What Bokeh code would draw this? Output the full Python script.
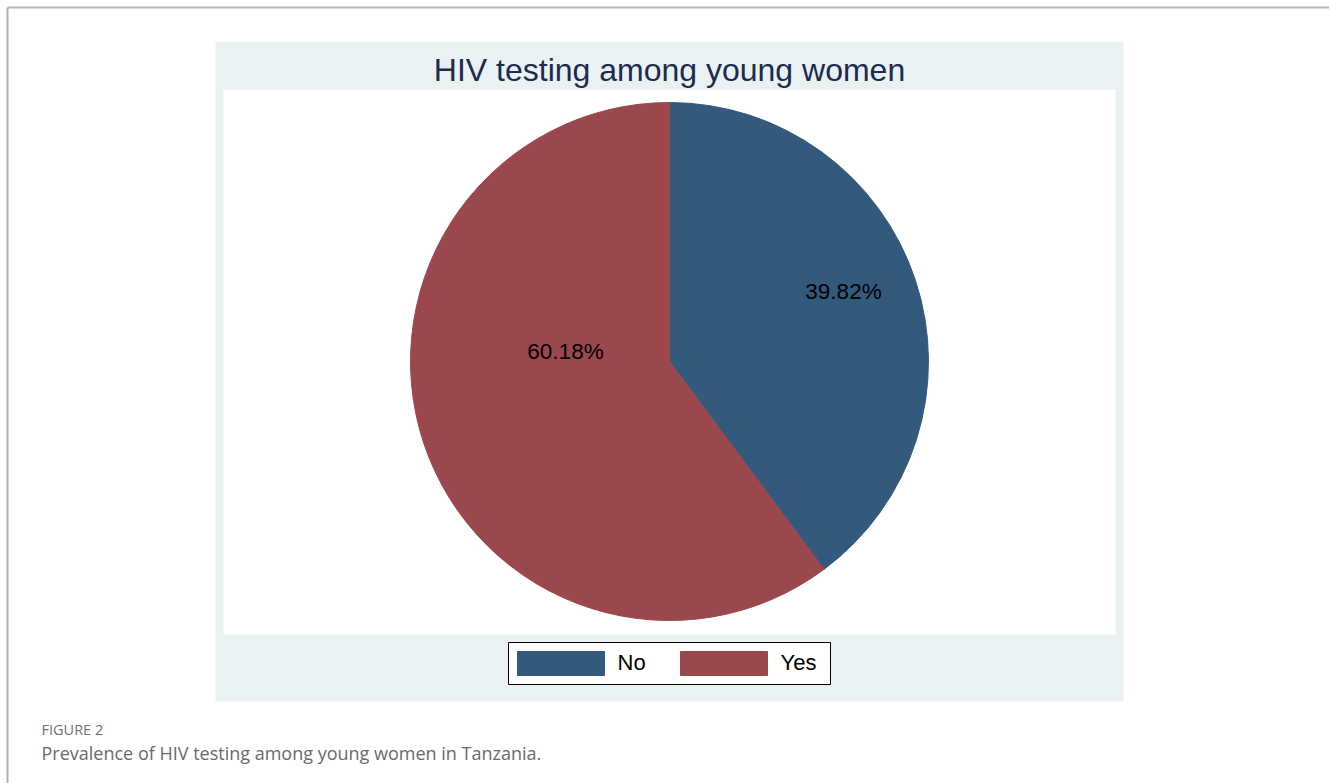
from bokeh.plotting import figure
from bokeh.models import Range1d, ColumnDataSource
from bokeh.core.properties import value
from bokeh.embed import file_html
from bokeh.resources import INLINE
import math

# ---- data ----
categories = ["No", "Yes"]
percent = [39.82, 60.18]
label_text = ["39.82%", "60.18%"]
slice_colors = ["#33597C", "#9A484E"]
title_text = "HIV testing among young women"
fig_label = "FIGURE 2"
caption = "Prevalence of HIV testing among young women in Tanzania."

W, H = 1329, 783
def Y(py):
    return H - py

p = figure(width=W, height=H, output_backend="svg", toolbar_location=None,
           x_range=Range1d(0, W), y_range=Range1d(0, H), min_border=0)
p.axis.visible = False
p.grid.visible = False
p.outline_line_color = None
p.background_fill_color = "white"
p.border_fill_color = "white"

# page frame
p.segment(x0=[7, 7], y0=[Y(7), Y(7)], x1=[W, 7], y1=[Y(7), 0], line_color="#b4b4b4", line_width=2)

# chart panels
p.quad(left=[215], right=[1123], top=[Y(41)], bottom=[Y(701)], fill_color="#EAF1F3", line_color=None)
p.quad(left=[223], right=[1115], top=[Y(89)], bottom=[Y(634)], fill_color="white", line_color=None)

# pie
cx, cy, R = 669, Y(361), 259
total = sum(percent)
starts, ends = [], []
cum = 0.0
for v in percent:
    starts.append(math.pi / 2 - cum / total * 2 * math.pi)
    cum += v
    ends.append(math.pi / 2 - cum / total * 2 * math.pi)
src = ColumnDataSource(dict(cat=categories, start=starts, end=ends, color=slice_colors))
p.wedge(x=cx, y=cy, radius=R, start_angle="start", end_angle="end", direction="clock",
        fill_color="color", line_color="color", line_width=1, source=src)

# slice labels
lab_x = [843, 565]
lab_y = [Y(291), Y(351)]
p.text(x=lab_x, y=lab_y, text=label_text, text_align="center", text_baseline="middle",
       text_font=value("Liberation Sans"), text_font_size="22.5px", text_color="black")

# title
p.text(x=[669], y=[Y(69)], text=[title_text], text_align="center", text_baseline="middle",
       text_font=value("Liberation Sans"), text_font_size="32px", text_color="#1C2B4F")

# legend
p.quad(left=[508], right=[830], top=[Y(642)], bottom=[Y(684)], fill_color="white",
       line_color="black", line_width=1)
sw_left = [517, 680]
p.quad(left=sw_left, right=[s + 87 for s in sw_left], top=[Y(651)] * 2, bottom=[Y(675)] * 2,
       fill_color=slice_colors, line_color=slice_colors)
p.text(x=[617, 780], y=[Y(662)] * 2, text=categories, text_align="left", text_baseline="middle",
       text_font=value("Liberation Sans"), text_font_size="22px", text_color="black")

# caption
p.text(x=[41], y=[Y(729)], text=[fig_label], text_align="left", text_baseline="middle",
       text_font=value("Open Sans"), text_font_size="14.5px", text_color="#707070",
       text_font_style="normal")
p.text(x=[41], y=[Y(752)], text=[caption], text_align="left", text_baseline="middle",
       text_font=value("Open Sans"), text_font_size="18px", text_color="#6a6a6a")

open("out.html", "w").write(file_html(p, INLINE))
